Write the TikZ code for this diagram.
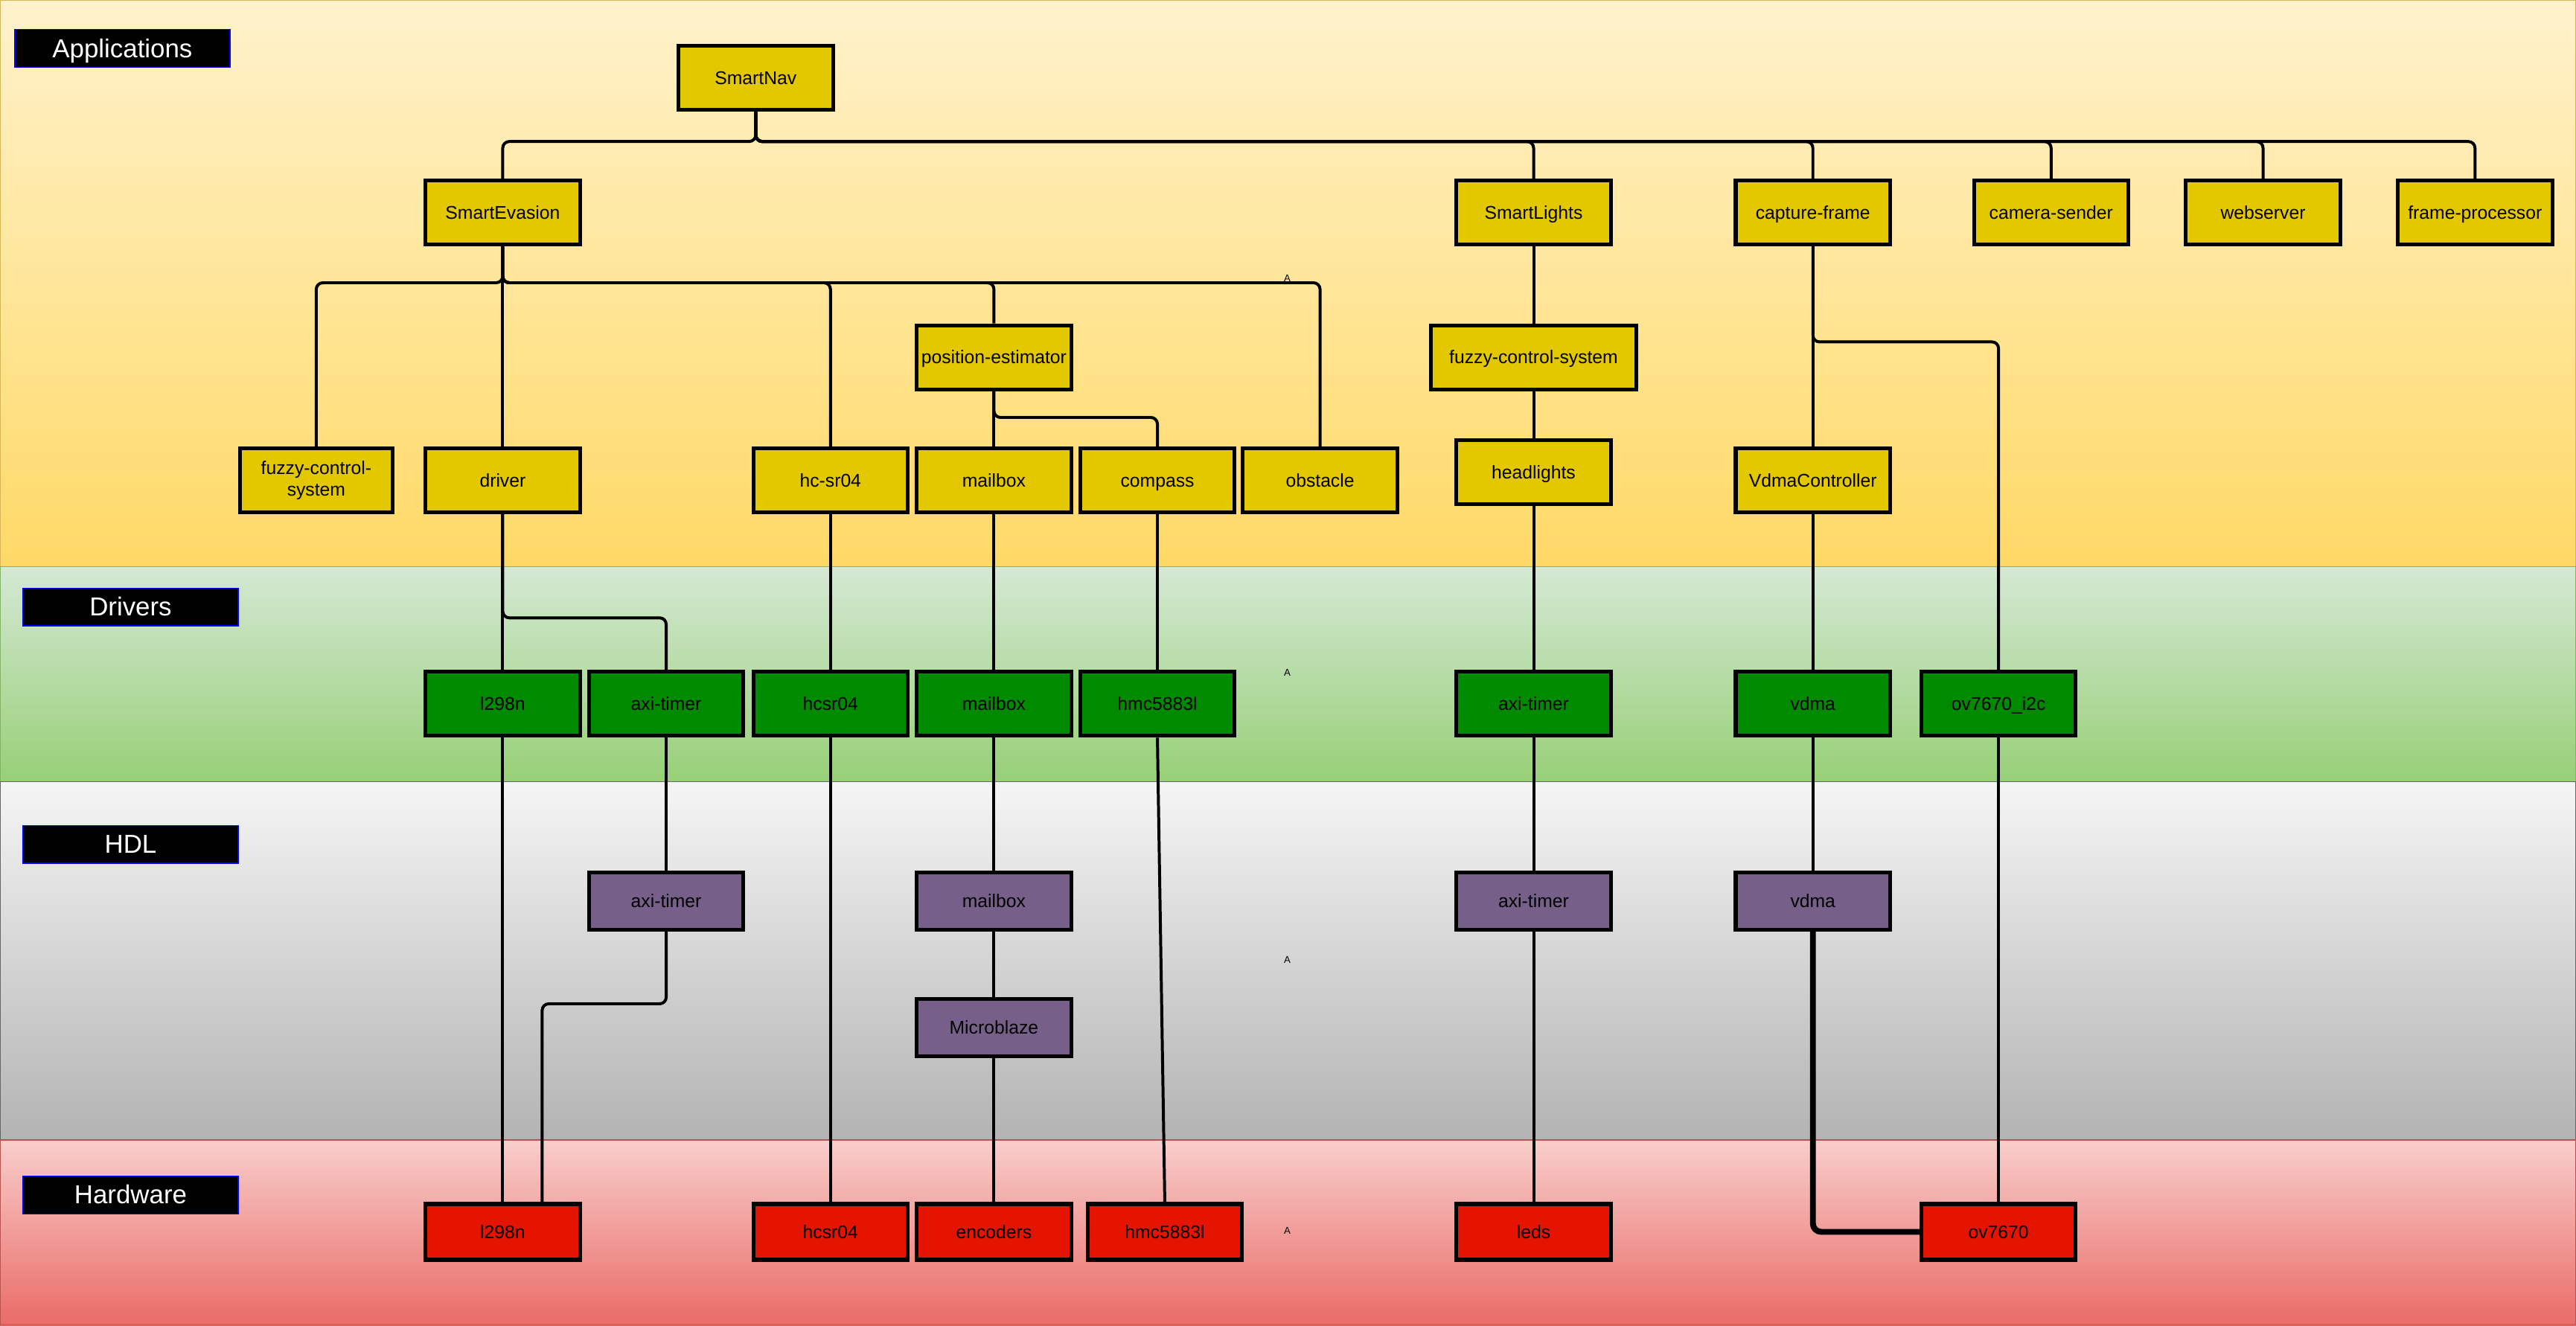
\documentclass[tikz,border=0pt]{standalone}
\usepackage{fontspec}
\setmainfont{Liberation Sans}
\definecolor{appTop}{HTML}{FFF2CC}
\definecolor{appBot}{HTML}{FFD966}
\definecolor{appBrd}{HTML}{D6B656}
\definecolor{drvTop}{HTML}{D5E8D4}
\definecolor{drvBot}{HTML}{97D077}
\definecolor{drvBrd}{HTML}{82B366}
\definecolor{hdlTop}{HTML}{F5F5F5}
\definecolor{hdlBot}{HTML}{B3B3B3}
\definecolor{hdlBrd}{HTML}{666666}
\definecolor{hwTop}{HTML}{F8CECC}
\definecolor{hwBot}{HTML}{EA6B66}
\definecolor{hwBrd}{HTML}{B85450}
\definecolor{appY}{HTML}{E3C800}
\definecolor{drvG}{HTML}{008A00}
\definecolor{hdlP}{HTML}{76608A}
\definecolor{hwR}{HTML}{E51400}
\begin{document}
\begin{tikzpicture}[x=1pt,y=-1pt]
\tikzset{
 box/.style={draw=black, line width=2.3pt, minimum width=94pt, minimum height=39pt, inner sep=1pt, font=\fontsize{11.2}{13}\selectfont, align=center, text=black, text height=10pt, text depth=2.2pt},
 app/.style={box, fill=appY},
 drv/.style={box, fill=drvG},
 hdl/.style={box, fill=hdlP, minimum height=35pt},
 hw/.style={box, fill=hwR, minimum height=34pt},
 lbl/.style={draw=blue, line width=0.6pt, fill=black, text=white, minimum width=131pt, minimum height=23pt, inner sep=0pt, font=\fontsize{15.8}{18}\selectfont, text height=14pt, text depth=3pt},
 wire/.style={line width=1.8pt, rounded corners=4pt},
 thickwire/.style={line width=3.6pt, rounded corners=5pt},
 tinytext/.style={font=\fontsize{6}{7}\selectfont, inner sep=0pt}
}
\useasboundingbox (0,0) rectangle (1568,807);
% bands
\shade[top color=appTop, bottom color=appBot] (0,0) rectangle (1568,345);
\draw[appBrd, line width=0.6pt] (0.3,0.3) rectangle (1567.7,345);
\shade[top color=drvTop, bottom color=drvBot] (0,345) rectangle (1568,476);
\draw[drvBrd, line width=0.6pt] (0.3,345) rectangle (1567.7,476);
\shade[top color=hdlTop, bottom color=hdlBot] (0,476) rectangle (1568,694);
\draw[hdlBrd, line width=0.6pt] (0.3,476) rectangle (1567.7,694);
\shade[top color=hwTop, bottom color=hwBot] (0,694) rectangle (1568,807);
\draw[hwBrd, line width=0.6pt] (0.3,694) rectangle (1567.7,806.7);
% layer labels
\node[lbl] (lApp) at (74.5,29.5) {Applications};
\node[lbl] (lDrv) at (79.5,369.5) {Drivers};
\node[lbl] (lHdl) at (79.5,514) {HDL};
\node[lbl] (lHw) at (79.5,727.5) {Hardware};
% applications
\node[app] (smartnav) at (460,47.5) {SmartNav};
\node[app] (evasion) at (306,129.5) {SmartEvasion};
\node[app] (lights) at (933.5,129.5) {SmartLights};
\node[app] (capture) at (1103.5,129.5) {capture-frame};
\node[app] (sender) at (1248.5,129.5) {camera-sender};
\node[app] (websrv) at (1377.5,129.5) {webserver};
\node[app] (fproc) at (1506.5,129.5) {frame-processor};
\node[app] (posest) at (605,217.5) {position-estimator};
\node[app, minimum width=125pt] (fuzzyR) at (933.5,217.5) {fuzzy-control-system};
\node[app, minimum width=93pt, text height=, text depth=] (fuzzyL) at (192.5,292.5) {fuzzy-control-\\system};
\node[app] (driver) at (306,292.5) {driver};
\node[app] (hcsrA) at (505.5,292.5) {hc-sr04};
\node[app] (mailA) at (605,292.5) {mailbox};
\node[app] (compass) at (704.5,292.5) {compass};
\node[app] (obstacle) at (803.5,292.5) {obstacle};
\node[app] (headl) at (933.5,287.5) {headlights};
\node[app] (vdmaC) at (1103.5,292.5) {VdmaController};
% drivers
\node[drv] (l298D) at (306,428.5) {l298n};
\node[drv] (axiD1) at (405.5,428.5) {axi-timer};
\node[drv] (hcsrD) at (505.5,428.5) {hcsr04};
\node[drv] (mailD) at (605,428.5) {mailbox};
\node[drv] (hmcD) at (704.5,428.5) {hmc5883l};
\node[drv] (axiD2) at (933.5,428.5) {axi-timer};
\node[drv] (vdmaD) at (1103.5,428.5) {vdma};
\node[drv] (ovi2c) at (1216.5,428.5) {ov7670\_i2c};
% HDL
\node[hdl] (axiH1) at (405.5,548.5) {axi-timer};
\node[hdl] (mailH) at (605,548.5) {mailbox};
\node[hdl] (axiH2) at (933.5,548.5) {axi-timer};
\node[hdl] (vdmaH) at (1103.5,548.5) {vdma};
\node[hdl] (mblaze) at (605,625.5) {Microblaze};
% hardware
\node[hw] (l298W) at (306,750) {l298n};
\node[hw] (hcsrW) at (505.5,750) {hcsr04};
\node[hw] (enc) at (605,750) {encoders};
\node[hw] (hmcW) at (709,750) {hmc5883l};
\node[hw] (leds) at (933.5,750) {leds};
\node[hw] (ov) at (1216.5,750) {ov7670};
% tiny labels
\node[tinytext] (tA1) at (783.5,169.5) {A};
\node[tinytext] (tA2) at (783.5,409.5) {A};
\node[tinytext] (tA3) at (783.5,584.5) {A};
\node[tinytext] (tA4) at (783.5,749.5) {A};
% connectors: SmartNav
\foreach \c in {evasion,lights,capture,sender,websrv,fproc}
  \draw[wire] (smartnav.south) -- ++(0,18) -| (\c.north);
% SmartEvasion
\foreach \c in {fuzzyL,driver,hcsrA,posest,obstacle}
  \draw[wire] (evasion.south) -- ++(0,22) -| (\c.north);
% position-estimator
\draw[wire] (posest.south) -- (mailA.north);
\draw[wire] (posest.south) -- ++(0,16) -| (compass.north);
% SmartLights chain
\draw[wire] (lights.south) -- (fuzzyR.north);
\draw[wire] (fuzzyR.south) -- (headl.north);
\draw[wire] (headl.south) -- (axiD2.north);
\draw[wire] (axiD2.south) -- (axiH2.north);
\draw[wire] (axiH2.south) -- (leds.north);
% capture-frame
\draw[wire] (capture.south) -- (vdmaC.north);
\draw[wire] (capture.south) -- ++(0,58) -| (ovi2c.north);
\draw[wire] (vdmaC.south) -- (vdmaD.north);
\draw[wire] (vdmaD.south) -- (vdmaH.north);
\draw[thickwire] (vdmaH.south) |- (ov.west);
\draw[wire] (ovi2c.south) -- (ov.north);
% driver
\draw[wire] (driver.south) -- (l298D.north);
\draw[wire] (driver.south) -- ++(0,63) -| (axiD1.north);
\draw[wire] (l298D.south) -- (l298W.north);
\draw[wire] (axiD1.south) -- (axiH1.north);
\draw[wire] (axiH1.south) -- ++(0,44) -| ([xshift=24pt]l298W.north);
% hc-sr04
\draw[wire] (hcsrA.south) -- (hcsrD.north);
\draw[wire] (hcsrD.south) -- (hcsrW.north);
% mailbox
\draw[wire] (mailA.south) -- (mailD.north);
\draw[wire] (mailD.south) -- (mailH.north);
\draw[wire] (mailH.south) -- (mblaze.north);
\draw[wire] (mblaze.south) -- (enc.north);
% compass
\draw[wire] (compass.south) -- (hmcD.north);
\draw[wire] (hmcD.south) -- (hmcW.north);
\end{tikzpicture}
\end{document}
